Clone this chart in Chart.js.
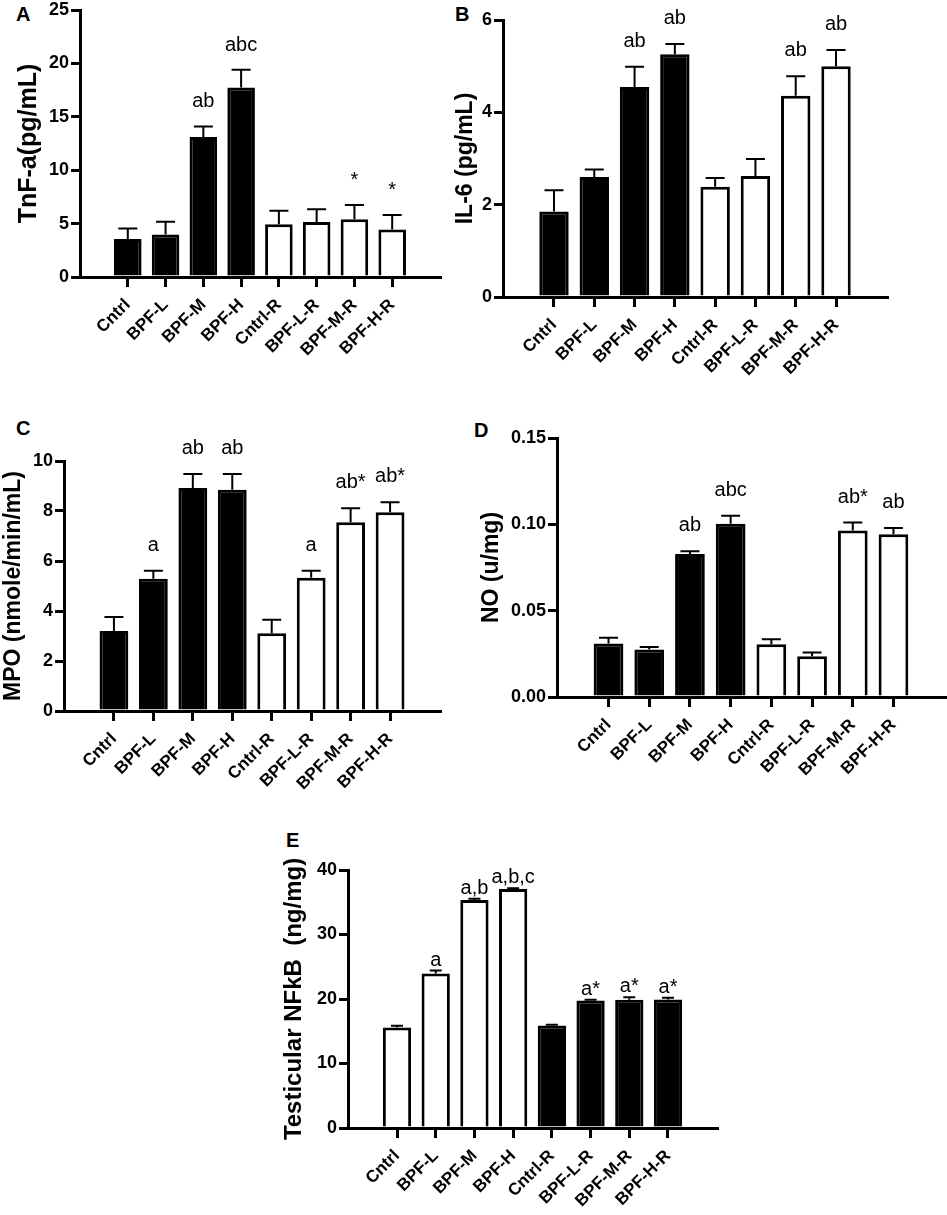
<!DOCTYPE html>
<html>
<head>
<meta charset="utf-8">
<script src="https://cdn.jsdelivr.net/npm/chart.js@4.4.1/dist/chart.umd.min.js"></script>
<style>
    html, body { margin: 0; padding: 0; background: #fff; }
    body { width: 947px; height: 1215px; position: relative; overflow: hidden;
           font-family: "Liberation Sans", Arial, Helvetica, sans-serif; }
    canvas { position: absolute; }
    .letra { position: absolute; font-weight: bold; font-size: 20px; line-height: 20px; color: #000; }
</style>
</head>
<body>
<div class="letra" style="left:16px;top:4px">A</div>
<div class="letra" style="left:455px;top:4px">B</div>
<div class="letra" style="left:16px;top:418px">C</div>
<div class="letra" style="left:474px;top:420px">D</div>
<div class="letra" style="left:286px;top:830px">E</div>

<canvas id="grafA"></canvas>
<canvas id="grafB"></canvas>
<canvas id="grafC"></canvas>
<canvas id="grafD"></canvas>
<canvas id="grafE"></canvas>

<script>
// --- DATOS ---
const categorias = ['Cntrl', 'BPF-L', 'BPF-M', 'BPF-H', 'Cntrl-R', 'BPF-L-R', 'BPF-M-R', 'BPF-H-R'];

// A: TNF-a
const tnfMedias = [3.55, 3.97, 13.1, 17.75, 4.95, 5.15, 5.4, 4.45];
const tnfSem    = [1.0, 1.2, 1.0, 1.65, 1.25, 1.2, 1.35, 1.35];
const tnfLetras = ['', '', 'ab', 'abc', '', '', '*', '*'];
const tnfTicks  = [0, 5, 10, 15, 20, 25];

// B: IL-6
const il6Medias = [1.85, 2.6, 4.55, 5.26, 2.39, 2.62, 4.36, 5.0];
const il6Sem    = [0.46, 0.16, 0.44, 0.22, 0.19, 0.37, 0.42, 0.35];
const il6Letras = ['', '', 'ab', 'ab', '', '', 'ab', 'ab'];
const il6Ticks  = [0, 2, 4, 6];

// C: MPO
const mpoMedias = [3.2, 5.29, 8.92, 8.85, 3.11, 5.33, 7.55, 7.95];
const mpoSem    = [0.56, 0.32, 0.56, 0.63, 0.54, 0.28, 0.56, 0.4];
const mpoLetras = ['', 'a', 'ab', 'ab', '', 'a', 'ab*', 'ab*'];
const mpoTicks  = [0, 2, 4, 6, 8, 10];

// D: NO
const noMedias = [0.031, 0.0275, 0.0828, 0.1003, 0.0306, 0.0236, 0.0964, 0.0943];
const noSem    = [0.0033, 0.0015, 0.0016, 0.0046, 0.0029, 0.0021, 0.0046, 0.0036];
const noLetras = ['', '', 'ab', 'abc', '', '', 'ab*', 'ab'];
const noTicks  = [0, 0.05, 0.10, 0.15];

// E: NFkB testicular
const nfkbMedias = [15.6, 23.95, 35.35, 37.06, 15.9, 19.77, 19.87, 19.92];
const nfkbSem    = [0.25, 0.45, 0.21, 0.12, 0.1, 0.1, 0.41, 0.26];
const nfkbLetras = ['', 'a', 'a,b', 'a,b,c', '', 'a*', 'a*', 'a*'];
const nfkbTicks  = [0, 10, 20, 30, 40];

const fuente = '"Liberation Sans", Arial, Helvetica, sans-serif';
const negro = '#000000';
const blanco = '#ffffff';

// barras de error (solo hacia arriba) y letras de significancia
const barrasError = {
    id: 'barrasError',
    afterDatasetsDraw(chart) {
        const ctx = chart.ctx;
        const ds = chart.data.datasets[0];
        const yEje = chart.scales.y;
        const meta = chart.getDatasetMeta(0);
        ctx.save();
        ctx.strokeStyle = negro;
        ctx.fillStyle = negro;
        ctx.lineWidth = 2;
        ctx.font = '20px ' + fuente;
        ctx.textAlign = 'center';
        ctx.textBaseline = 'alphabetic';
        meta.data.forEach((barra, i) => {
            const yTope = yEje.getPixelForValue(ds.data[i].y + ds.sem[i]);
            ctx.beginPath();
            ctx.moveTo(barra.x, barra.y);
            ctx.lineTo(barra.x, yTope);
            ctx.moveTo(barra.x - ds.tapa / 2, yTope);
            ctx.lineTo(barra.x + ds.tapa / 2, yTope);
            ctx.stroke();
            if (ds.letras[i]) {
                ctx.fillText(ds.letras[i], barra.x, yTope - ds.separacion);
            }
        });
        ctx.restore();
    }
};

function dibujarPanel(cfg) {
    const g = cfg.geo;
    const canvas = document.getElementById(cfg.id);
    canvas.width = g.w;
    canvas.height = g.h;
    canvas.style.left = g.x + 'px';
    canvas.style.top = g.y + 'px';

    const escalaIzq = g.tituloX - cfg.tamTitulo * 1.2 / 2;
    const relleno = {
        left: escalaIzq - g.x,
        top: g.arriba - g.y,
        right: g.x + g.w - g.derecha,
        bottom: g.y + g.h - g.abajo - g.altoX
    };

    new Chart(canvas, {
        type: 'bar',
        data: {
            datasets: [{
                data: cfg.medias.map((v, i) => ({ x: i, y: v })),
                sem: cfg.sem,
                letras: cfg.letras,
                tapa: cfg.tapa,
                separacion: cfg.separacion,
                backgroundColor: cfg.rellenos,
                borderColor: negro,
                borderWidth: 3,
                borderSkipped: 'start',
                barPercentage: 0.73,
                categoryPercentage: 1
            }]
        },
        options: {
            responsive: false,
            animation: false,
            layout: { padding: relleno },
            plugins: { legend: { display: false }, tooltip: { enabled: false } },
            scales: {
                x: {
                    type: 'linear',
                    min: -0.67,
                    max: 7.67,
                    bounds: 'data',
                    afterBuildTicks: s => { s.ticks = categorias.map((c, i) => ({ value: i })); },
                    afterFit: s => { s.height = g.altoX; },
                    ticks: {
                        autoSkip: false,
                        minRotation: 45,
                        maxRotation: 45,
                        padding: 8,
                        color: negro,
                        font: { family: fuente, size: 17, weight: 'bold' },
                        callback: v => categorias[v]
                    },
                    grid: { drawOnChartArea: false, color: negro, lineWidth: 3, tickLength: 10, offset: false },
                    border: { color: negro, width: 3 }
                },
                y: {
                    min: 0,
                    max: cfg.ticksY[cfg.ticksY.length - 1],
                    afterBuildTicks: s => { s.ticks = cfg.ticksY.map(v => ({ value: v })); },
                    afterFit: s => { s.width = g.left - escalaIzq; },
                    ticks: {
                        padding: 2,
                        color: negro,
                        font: { family: fuente, size: 18, weight: 'bold' },
                        callback: cfg.formato
                    },
                    grid: { drawOnChartArea: false, color: negro, lineWidth: 3, tickLength: 9 },
                    border: { color: negro, width: 3 },
                    title: {
                        display: true,
                        text: cfg.titulo,
                        color: negro,
                        padding: 0,
                        font: { family: fuente, size: cfg.tamTitulo, weight: 'bold' }
                    }
                }
            }
        },
        plugins: [barrasError]
    });
}

document.addEventListener('DOMContentLoaded', function() {
    const rellenoAD = [negro, negro, negro, negro, blanco, blanco, blanco, blanco];
    const rellenoE = [blanco, blanco, blanco, blanco, negro, negro, negro, negro];
    const entero = v => String(v);

    dibujarPanel({
        id: 'grafA', medias: tnfMedias, sem: tnfSem, letras: tnfLetras, ticksY: tnfTicks,
        titulo: 'TnF-a(pg/mL)', tamTitulo: 25, rellenos: rellenoAD, tapa: 19, separacion: 19, formato: entero,
        geo: { x: 0, y: -20, w: 470, h: 410, left: 80, derecha: 440, arriba: 10, abajo: 277, tituloX: 29, altoX: 95 }
    });
    dibujarPanel({
        id: 'grafB', medias: il6Medias, sem: il6Sem, letras: il6Letras, ticksY: il6Ticks,
        titulo: 'IL-6 (pg/mL)', tamTitulo: 23, rellenos: rellenoAD, tapa: 19, separacion: 20, formato: entero,
        geo: { x: 440, y: -20, w: 507, h: 415, left: 503, derecha: 887, arriba: 20, abajo: 297, tituloX: 466, altoX: 90 }
    });
    dibujarPanel({
        id: 'grafC', medias: mpoMedias, sem: mpoSem, letras: mpoLetras, ticksY: mpoTicks,
        titulo: 'MPO (nmole/min/mL)', tamTitulo: 23, rellenos: rellenoAD, tapa: 19, separacion: 20, formato: entero,
        geo: { x: 0, y: 400, w: 470, h: 410, left: 64, derecha: 440, arriba: 461, abajo: 711, tituloX: 14, altoX: 90 }
    });
    dibujarPanel({
        id: 'grafD', medias: noMedias, sem: noSem, letras: noLetras, ticksY: noTicks,
        titulo: 'NO (u/mg)', tamTitulo: 23, rellenos: rellenoAD, tapa: 19, separacion: 20, formato: v => v.toFixed(2),
        geo: { x: 470, y: 400, w: 477, h: 410, left: 557, derecha: 945, arriba: 438, abajo: 697, tituloX: 492, altoX: 100 }
    });
    dibujarPanel({
        id: 'grafE', medias: nfkbMedias, sem: nfkbSem, letras: nfkbLetras, ticksY: nfkbTicks,
        titulo: 'Testicular NFkB  (ng/mg)', tamTitulo: 24, rellenos: rellenoE, tapa: 12, separacion: 5, formato: entero,
        geo: { x: 230, y: 840, w: 517, h: 375, left: 348, derecha: 717, arriba: 870, abajo: 1128, tituloX: 294, altoX: 80 }
    });
});
</script>
</body>
</html>
